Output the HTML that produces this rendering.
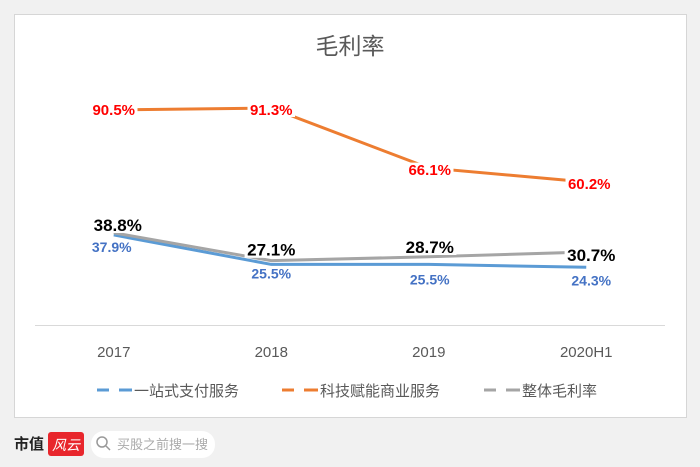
<!DOCTYPE html>
<html><head><meta charset="utf-8"><style>
body{margin:0;width:700px;height:467px;background:#f1f1f1;font-family:"Liberation Sans","Noto Sans CJK SC",sans-serif;overflow:hidden;position:relative}
#card{position:absolute;left:14px;top:14px;width:671px;height:402px;background:#fff;border:1px solid #d6d6d6}
svg{position:absolute;left:0;top:0}
</style></head><body>
<div id="card"></div>
<svg id="chart" width="700" height="467">
<text x="350" y="54" text-anchor="middle" font-size="23" fill="#595959">毛利率</text>
<line x1="35" y1="325.5" x2="665" y2="325.5" stroke="#d9d9d9" stroke-width="1"/>
<g id="marks"></g>
<g font-size="15" fill="#595959">
<g><line x1="97" y1="390" x2="109" y2="390" stroke="#5b9bd5" stroke-width="3"/><line x1="119" y1="390" x2="132" y2="390" stroke="#5b9bd5" stroke-width="3"/><text x="134" y="396">一站式支付服务</text></g>
<g><line x1="282" y1="390" x2="294" y2="390" stroke="#ed7d31" stroke-width="3"/><line x1="304" y1="390" x2="318" y2="390" stroke="#ed7d31" stroke-width="3"/><text x="320" y="396">科技赋能商业服务</text></g>
<g><line x1="484" y1="390" x2="496" y2="390" stroke="#a5a5a5" stroke-width="3"/><line x1="506" y1="390" x2="520" y2="390" stroke="#a5a5a5" stroke-width="3"/><text x="522" y="396">整体毛利率</text></g>
</g>
<g>
<text x="14" y="449" font-size="15" font-weight="bold" fill="#222">市值</text>
<rect x="48" y="432" width="36" height="24" rx="3" fill="#e8262c"/>
<text x="52" y="450" font-size="14" fill="#fff" font-style="italic">风云</text>
<rect x="91" y="431" width="124" height="27" rx="13" fill="#fff"/>
<circle cx="102" cy="442" r="5" fill="none" stroke="#999" stroke-width="1.5"/>
<line x1="106" y1="446" x2="110" y2="450" stroke="#999" stroke-width="1.5"/>
<text x="117" y="449" font-size="13" fill="#aaa">买股之前搜一搜</text>
</g>
</svg>
<script>
const categories=["2017","2018","2019","2020H1"];
const techValues=[90.5,91.3,66.1,60.2];
const overallValues=[38.8,27.1,28.7,30.7];
const paymentValues=[37.9,25.5,25.5,24.3];
const techLabels=["90.5%","91.3%","66.1%","60.2%"];
const overallLabels=["38.8%","27.1%","28.7%","30.7%"];
const paymentLabels=["37.9%","25.5%","25.5%","24.3%"];
const NS="http://www.w3.org/2000/svg";
const g=document.getElementById('marks');
function xs(i){return 35+157.5*(i+0.5);}
function ys(v){return 325-v*2.376;}
function mk(t,a){const e=document.createElementNS(NS,t);for(const k in a)e.setAttribute(k,a[k]);g.appendChild(e);return e;}
categories.forEach((c,i)=>{const t=mk('text',{x:xs(i),y:357,'text-anchor':'middle','font-size':15,fill:'#595959'});t.textContent=c;

});
function line(vals,color,name){const p=mk('polyline',{points:vals.map((v,i)=>xs(i)+','+ys(v)).join(' '),fill:'none',stroke:color,'stroke-width':3});

}
line(paymentValues,'#5b9bd5','payment-line');
line(overallValues,'#a5a5a5','overall-line');
line(techValues,'#ed7d31','tech-line');
function labels(vals,txt,color,size,dy,dx,name){vals.forEach((v,i)=>{const x=xs(i)+dx[i],y=ys(v)+dy[i];
const w=txt[i].length*size*0.58;
const r=mk('rect',{x:x-w/2-2,y:y-size*0.82,width:w+4,height:size*0.95,fill:'#fff'});
const t=mk('text',{x:x,y:y,'text-anchor':'middle','font-size':size,'font-weight':'bold',fill:color});t.textContent=txt[i];

});}
labels(techValues,techLabels,'#ff0000',15,[5,7,7,7],[0,0,1,3],'tech-value-label');
labels(paymentValues,paymentLabels,'#4472c4',14,[17,14,20,18],[-2,0,1,5],'payment-value-label');
labels(overallValues,overallLabels,'#000',17,[-2,-5,-4,9],[4,0,1,5],'overall-value-label');
</script>
</body></html>
